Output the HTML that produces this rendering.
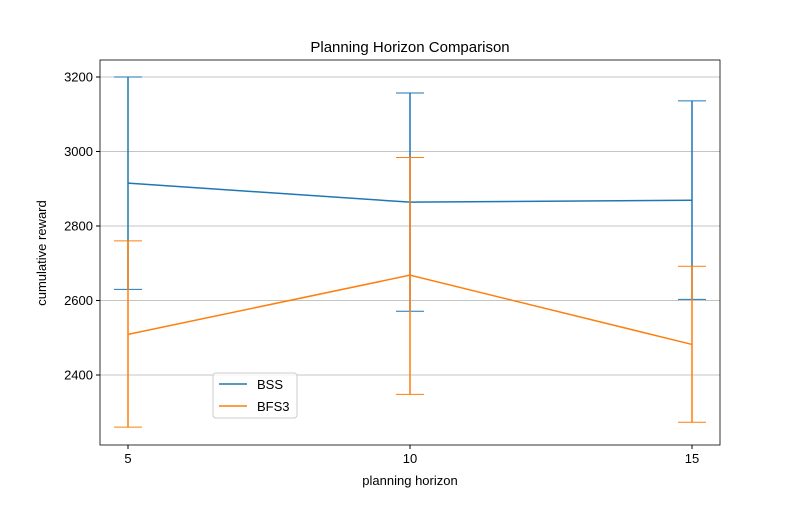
<!DOCTYPE html>
<html><head><meta charset="utf-8"><style>
body{margin:0;background:#fff;font-family:"Liberation Sans","DejaVu Sans",sans-serif}
</style></head><body>
<svg id="chart" width="800" height="500" xmlns="http://www.w3.org/2000/svg"></svg>
<script>
const categories=[5,10,15];
const bssMean=[2915,2864,2869];
const bssLow=[2630,2571,2603];
const bssHigh=[3200,3157,3136];
const bfsMean=[2509,2668,2482];
const bfsLow=[2260,2348,2273];
const bfsHigh=[2760,2984,2692];
const yTicks=[2400,2600,2800,3000,3200];
const xTicks=[5,10,15];

const L=100,R=720,T=60,B=445;
const xs=v=>128+(v-5)*(692-128)/10;
const ys=v=>375-(v-2400)*(375-77)/800;
const svg=document.getElementById('chart');
const NS='http://www.w3.org/2000/svg';
function mk(tag,attrs,name,parent){const e=document.createElementNS(NS,tag);for(const k in attrs)e.setAttribute(k,attrs[k]);


(parent||svg).appendChild(e);return e;}
function txt(x,y,s,name,extra){const t=mk('text',Object.assign({x:x,y:y,'font-size':13,fill:'#000'},extra||{}),name);t.textContent=s;return t;}

yTicks.forEach(v=>{
  mk('line',{x1:L,x2:R,y1:ys(v),y2:ys(v),stroke:'#b0b0b0','stroke-width':0.8},'grid-line-'+v);
  mk('line',{x1:L-4,x2:L,y1:ys(v),y2:ys(v),stroke:'#000'},'y-tick-'+v);
  txt(L-7,ys(v)+4.5,String(v),'y-tick-label-'+v,{'text-anchor':'end'});
});
xTicks.forEach(v=>{
  mk('line',{x1:xs(v),x2:xs(v),y1:B,y2:B+4,stroke:'#000'},'x-tick-'+v);
  txt(xs(v),B+18,String(v),'x-tick-label-'+v,{'text-anchor':'middle'});
});
function series(mean,lo,hi,color,name){
  const g=mk('g',{},name+'-series');
  categories.forEach((c,i)=>{
    const x=xs(c);
    mk('line',{x1:x,x2:x,y1:ys(lo[i]),y2:ys(hi[i]),stroke:color,'stroke-width':1.5},name+'-errorbar-'+c,g);
    mk('line',{x1:x-14,x2:x+14,y1:ys(lo[i]),y2:ys(lo[i]),stroke:color,'stroke-width':1},name+'-cap-low-'+c,g);
    mk('line',{x1:x-14,x2:x+14,y1:ys(hi[i]),y2:ys(hi[i]),stroke:color,'stroke-width':1},name+'-cap-high-'+c,g);
  });
  mk('polyline',{points:categories.map((c,i)=>xs(c)+','+ys(mean[i])).join(' '),fill:'none',stroke:color,'stroke-width':1.5},name+'-line',g);
}
series(bssMean,bssLow,bssHigh,'#1f77b4','bss');
series(bfsMean,bfsLow,bfsHigh,'#ff7f0e','bfs3');
mk('rect',{x:L,y:T,width:R-L,height:B-T,fill:'none',stroke:'#000','stroke-width':0.8},'plot-frame');
txt(410,T-8,'Planning Horizon Comparison','chart-title',{'text-anchor':'middle','font-size':15});
txt(410,485,'planning horizon','x-axis-title',{'text-anchor':'middle'});
txt(46,253,'cumulative reward','y-axis-title',{'text-anchor':'middle',transform:'rotate(-90 46 253)'});
const lg=mk('g',{},'legend');
mk('rect',{x:213,y:373,width:84,height:45,rx:3,fill:'#fff','fill-opacity':0.8,stroke:'#ccc'},'legend-box',lg);
mk('line',{x1:219,x2:247,y1:384,y2:384,stroke:'#1f77b4','stroke-width':1.5},'legend-bss-swatch',lg);
mk('line',{x1:219,x2:247,y1:406,y2:406,stroke:'#ff7f0e','stroke-width':1.5},'legend-bfs3-swatch',lg);
txt(257,389,'BSS','legend-bss-label');
txt(257,411,'BFS3','legend-bfs3-label');
</script>
</body></html>
